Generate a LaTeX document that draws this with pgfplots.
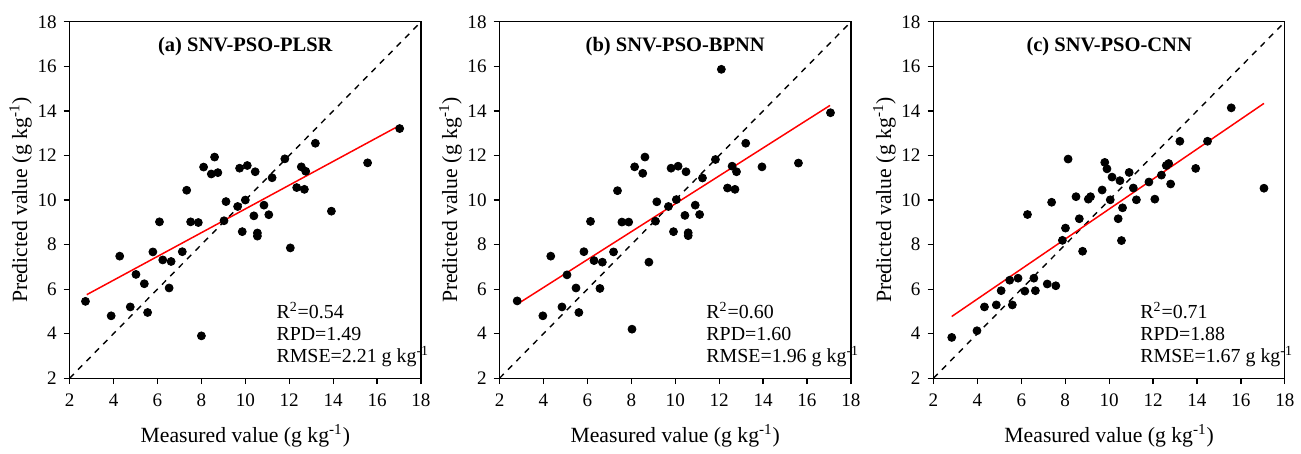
\documentclass[border=0pt]{standalone}
\usepackage{fontspec}
\setmainfont{Liberation Serif}
\usepackage{pgfplots}
\usepackage{pgfplotstable}
\pgfplotsset{compat=1.18}

\pgfplotstableread{
x y
2.72 5.45
3.89 4.80
4.28 7.48
4.76 5.20
5.02 6.66
5.40 6.24
5.55 4.95
5.79 7.67
6.09 9.02
6.24 7.31
6.62 7.24
6.53 6.05
7.13 7.68
7.33 10.44
7.51 9.02
7.86 8.99
8.00 3.90
8.10 11.48
8.45 11.17
8.60 11.93
8.75 11.23
9.03 9.07
9.12 9.93
9.65 9.71
9.74 11.43
9.86 8.58
10.00 10.00
10.09 11.55
10.39 9.29
10.45 11.27
10.55 8.52
10.55 8.38
10.85 9.77
11.07 9.34
11.22 11.00
11.80 11.85
12.05 7.85
12.34 10.56
12.55 11.49
12.69 10.48
12.75 11.29
13.19 12.55
13.92 9.50
15.57 11.67
17.03 13.21
}\plsr

\pgfplotstableread{
x y
2.80 5.47
3.97 4.80
4.33 7.48
4.84 5.20
5.07 6.64
5.48 6.05
5.61 4.95
5.84 7.68
6.14 9.04
6.30 7.28
6.68 7.21
6.57 6.03
7.19 7.67
7.37 10.42
7.57 9.01
7.88 9.01
8.03 4.20
8.15 11.49
8.52 11.20
8.62 11.93
8.80 7.21
9.10 9.05
9.16 9.92
9.69 9.71
9.81 11.43
9.92 8.58
10.05 10.02
10.13 11.52
10.44 9.31
10.49 11.27
10.59 8.53
10.59 8.40
10.91 9.77
11.11 9.35
11.24 10.99
11.83 11.82
12.10 15.87
12.38 10.54
12.59 11.52
12.72 10.48
12.79 11.27
13.21 12.55
13.95 11.49
15.61 11.66
17.07 13.92
}\bpnn

\pgfplotstableread{
x y
2.83 3.83
3.98 4.13
4.32 5.20
4.86 5.29
5.08 5.93
5.47 6.40
5.59 5.29
5.85 6.49
6.16 5.91
6.28 9.35
6.57 6.49
6.64 5.93
7.18 6.23
7.38 9.90
7.57 6.15
7.87 8.19
8.01 8.74
8.13 11.84
8.49 10.15
8.64 9.16
8.79 7.70
9.05 10.04
9.15 10.15
9.68 10.45
9.80 11.69
9.90 11.40
10.05 10.01
10.13 11.03
10.41 9.16
10.49 10.87
10.56 8.18
10.61 9.65
10.91 11.24
11.10 10.54
11.24 10.01
11.81 10.81
12.08 10.04
12.38 11.12
12.60 11.55
12.71 11.64
12.80 10.72
13.22 12.64
13.94 11.42
14.48 12.64
15.56 14.14
17.05 10.53
}\cnn

\pgfplotsset{
  scat/.style={
    width=176.5pt, height=179pt, scale only axis,
    xmin=2, xmax=18, ymin=2, ymax=18,
    xtick={2,4,...,18}, ytick={2,4,...,18},
    tick pos=left, tick align=outside,
    major tick length=3pt,
    /pgf/number format/assume math mode=true,
    tick label style={font=\fontsize{9.6}{11}\selectfont},
    xticklabel style={yshift=-1.5pt},
    label style={font=\fontsize{10.9}{13}\selectfont},
    xlabel={Measured value (g kg\textsuperscript{-1})},
    ylabel={Predicted value (g kg\textsuperscript{-1})},
    xlabel shift=2pt,
    ylabel shift=-4pt,
    axis line style={line width=0.6pt},
    every tick/.style={black, line width=0.6pt},
    clip=false,
  },
  dots/.style={only marks, mark=*, mark size=2pt, black},
  fit/.style={red, line width=0.75pt},
  one2one/.style={black, line width=0.7pt, dash pattern=on 3pt off 3pt},
}
\tikzset{
  ttl/.style={font=\fontsize{10.3}{12}\selectfont\bfseries},
  stats/.style={font=\fontsize{10}{12}\selectfont, anchor=west},
}

\begin{document}
\begin{tikzpicture}
\begin{axis}[scat, at={(0pt,0pt)}]
  \addplot[one2one] coordinates {(2,2) (18,18)};
  \addplot[fit] coordinates {(2.78,5.75) (17.03,13.35)};
  \addplot[dots] table {\plsr};
  \node[ttl] at (rel axis cs:0.5,0.93) {(a) SNV-PSO-PLSR};
  \node[stats] at (axis cs:11.1,5.05) {R\textsuperscript{2}=0.54};
  \node[stats] at (axis cs:11.1,4.0) {RPD=1.49};
  \node[stats] at (axis cs:11.1,2.97) {RMSE=2.21 g kg\textsuperscript{-1}};
\end{axis}

\begin{axis}[scat, at={(216pt,0pt)}]
  \addplot[one2one] coordinates {(2,2) (18,18)};
  \addplot[fit] coordinates {(2.80,5.32) (17.05,14.25)};
  \addplot[dots] table {\bpnn};
  \node[ttl] at (rel axis cs:0.5,0.93) {(b) SNV-PSO-BPNN};
  \node[stats] at (axis cs:11.1,5.05) {R\textsuperscript{2}=0.60};
  \node[stats] at (axis cs:11.1,4.0) {RPD=1.60};
  \node[stats] at (axis cs:11.1,2.97) {RMSE=1.96 g kg\textsuperscript{-1}};
\end{axis}

\begin{axis}[scat, at={(434pt,0pt)}]
  \addplot[one2one] coordinates {(2,2) (18,18)};
  \addplot[fit] coordinates {(2.83,4.77) (17.05,14.34)};
  \addplot[dots] table {\cnn};
  \node[ttl] at (rel axis cs:0.5,0.93) {(c) SNV-PSO-CNN};
  \node[stats] at (axis cs:11.1,5.05) {R\textsuperscript{2}=0.71};
  \node[stats] at (axis cs:11.1,4.0) {RPD=1.88};
  \node[stats] at (axis cs:11.1,2.97) {RMSE=1.67 g kg\textsuperscript{-1}};
\end{axis}

\path[use as bounding box] (-35pt,-34pt) rectangle (615.5pt,190pt);
\end{tikzpicture}
\end{document}
